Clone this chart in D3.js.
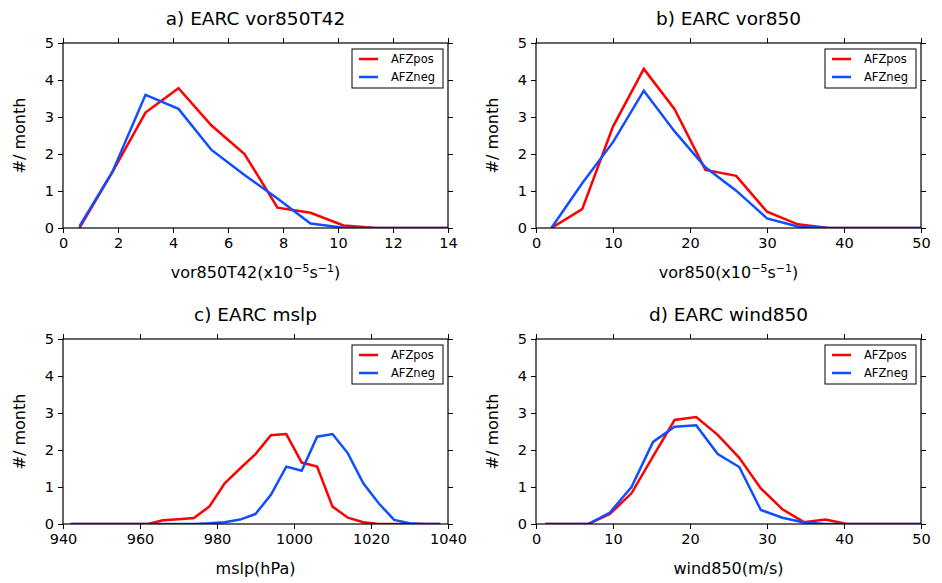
<!DOCTYPE html>
<html>
<head>
<meta charset="utf-8">
<script src="https://cdn.jsdelivr.net/npm/d3@7"></script>
<style>
body { margin: 0; background: #fff; }
text { font-family: "DejaVu Sans", sans-serif; fill: #000; }
</style>
</head>
<body>
<svg id="chart" width="942" height="583"></svg>
<script>
// panel a) vor850T42
var vorT42X = [0.6, 1.8, 3.0, 4.2, 5.4, 6.6, 7.8, 9.0, 10.2, 11.4, 12.6, 13.8, 15.0];
var vorT42Pos = [0.0, 1.52, 3.12, 3.78, 2.77, 2.0, 0.55, 0.41, 0.07, 0.0, 0.0, 0.0, 0.0];
var vorT42Neg = [0.05, 1.52, 3.6, 3.22, 2.11, 1.43, 0.8, 0.12, 0.01, 0.0, 0.0, 0.0, 0.0];

// panel b) vor850
var vorX = [2, 6, 10, 14, 18, 22, 26, 30, 34, 38, 42, 46, 50];
var vorPos = [0.0, 0.51, 2.74, 4.3, 3.21, 1.57, 1.41, 0.44, 0.1, 0.0, 0.0, 0.0, 0.0];
var vorNeg = [0.0, 1.21, 2.32, 3.71, 2.61, 1.64, 1.01, 0.26, 0.04, 0.0, 0.0, 0.0, 0.0];

// panel c) mslp
var mslpX = [942, 946, 950, 954, 958, 962, 966, 970, 974, 978, 982, 986, 990, 994, 998,
             1002, 1006, 1010, 1014, 1018, 1022, 1026, 1030, 1034, 1038];
var mslpPos = [0, 0, 0, 0, 0, 0, 0.1, 0.13, 0.16, 0.47, 1.1, 1.5, 1.89, 2.4, 2.43,
               1.66, 1.55, 0.47, 0.17, 0.05, 0, 0, 0, 0, 0];
var mslpNeg = [0, 0, 0, 0, 0, 0, 0, 0, 0, 0.02, 0.05, 0.12, 0.27, 0.79, 1.55,
               1.44, 2.36, 2.43, 1.91, 1.1, 0.56, 0.11, 0.02, 0, 0];

// panel d) wind850
var windX = [1.2, 4.0, 6.8, 9.6, 12.4, 15.2, 18.0, 20.8, 23.6, 26.4, 29.2, 32.0, 34.8,
             37.6, 40.4, 43.2, 46.0, 48.8, 51.6];
var windPos = [0, 0, 0, 0.27, 0.83, 1.83, 2.81, 2.89, 2.41, 1.79, 0.96, 0.4, 0.05,
               0.12, 0, 0, 0, 0, 0];
var windNeg = [0, 0, 0, 0.31, 1.0, 2.22, 2.63, 2.67, 1.89, 1.54, 0.38, 0.17, 0.04,
               0, 0, 0, 0, 0, 0];

var yTicks = [0, 1, 2, 3, 4, 5];
var seriesNames = ["AFZpos", "AFZneg"];
var seriesColors = ["#ff0000", "#0f4fff"];

var panels = [
  {title: "a) EARC vor850T42", xlab: "vor850T42", unit: true, x: vorT42X, pos: vorT42Pos, neg: vorT42Neg,
   domain: [0, 14], ticks: [0, 2, 4, 6, 8, 10, 12, 14], left: 63, top: 43},
  {title: "b) EARC vor850", xlab: "vor850", unit: true, x: vorX, pos: vorPos, neg: vorNeg,
   domain: [0, 50], ticks: [0, 10, 20, 30, 40, 50], left: 536, top: 43},
  {title: "c) EARC mslp", xlab: "mslp(hPa)", unit: false, x: mslpX, pos: mslpPos, neg: mslpNeg,
   domain: [940, 1040], ticks: [940, 960, 980, 1000, 1020, 1040], left: 63, top: 339},
  {title: "d) EARC wind850", xlab: "wind850(m/s)", unit: false, x: windX, pos: windPos, neg: windNeg,
   domain: [0, 50], ticks: [0, 10, 20, 30, 40, 50], left: 536, top: 339}
];

var w = 385, h = 185;
var svg = d3.select("#chart");

panels.forEach(function (p, k) {
  var g = svg.append("g").attr("transform", "translate(" + p.left + "," + p.top + ")");
  var x = d3.scaleLinear().domain(p.domain).range([0, w]);
  var y = d3.scaleLinear().domain([0, 5]).range([h, 0]);

  g.append("clipPath").attr("id", "clip" + k)
    .append("rect").attr("width", w).attr("height", h);

  // axes, ticks outward on all four sides
  var axB = g.append("g").attr("transform", "translate(0," + h + ")")
    .call(d3.axisBottom(x).tickValues(p.ticks).tickSize(5).tickPadding(5).tickFormat(d3.format("d")));
  var axT = g.append("g").call(d3.axisTop(x).tickValues(p.ticks).tickSize(5).tickFormat(""));
  var axL = g.append("g").call(d3.axisLeft(y).tickValues(yTicks).tickSize(5).tickPadding(4).tickFormat(d3.format("d")));
  var axR = g.append("g").attr("transform", "translate(" + w + ",0)")
    .call(d3.axisRight(y).tickValues(yTicks).tickSize(5).tickFormat(""));
  [axB, axT, axL, axR].forEach(function (a) {
    a.selectAll(".domain").remove();
    a.selectAll("line").attr("stroke", "#000").attr("stroke-width", 1);
    a.selectAll("text").style("font-size", "14.5px").style("font-family", "DejaVu Sans");
  });

  var line = d3.line().x(function (d) { return x(d[0]); }).y(function (d) { return y(d[1]); });
  var lines = g.append("g").attr("clip-path", "url(#clip" + k + ")");
  [p.pos, p.neg].forEach(function (vals, i) {
    lines.append("path")
      .datum(p.x.map(function (v, j) { return [v, vals[j]]; }))
      .attr("d", line)
      .attr("fill", "none")
      .attr("stroke", seriesColors[i])
      .attr("stroke-width", 2.5)
      .attr("stroke-linejoin", "miter");
  });

  g.append("rect").attr("width", w).attr("height", h)
    .attr("fill", "none").attr("stroke", "#000").attr("stroke-width", 1.2);

  // legend
  var lg = g.append("g").attr("transform", "translate(" + (w - 96) + ",6)");
  lg.append("rect").attr("width", 91).attr("height", 39)
    .attr("fill", "#fff").attr("stroke", "#000").attr("stroke-width", 1);
  seriesNames.forEach(function (s, i) {
    lg.append("line").attr("x1", 7).attr("x2", 26).attr("y1", 10 + i * 18).attr("y2", 10 + i * 18)
      .attr("stroke", seriesColors[i]).attr("stroke-width", 2.5);
    lg.append("text").attr("x", 39).attr("y", 10 + i * 18).attr("dy", "0.36em")
      .style("font-size", "11.5px").text(s);
  });

  // title
  g.append("text").attr("x", w / 2).attr("y", -18).attr("text-anchor", "middle")
    .style("font-size", "18.5px").text(p.title);

  // y label
  g.append("text").attr("transform", "translate(-38," + (h / 2) + ") rotate(-90)")
    .attr("text-anchor", "middle").style("font-size", "16px").text("#/ month");

  // x label
  var xl = g.append("text").attr("x", w / 2).attr("y", h + 50).attr("text-anchor", "middle")
    .style("font-size", "16px");
  xl.append("tspan").text(p.xlab + (p.unit ? "(x10" : ""));
  if (p.unit) {
    xl.append("tspan").attr("dy", -6).style("font-size", "11px").text("\u22125");
    xl.append("tspan").attr("dy", 6).text("s");
    xl.append("tspan").attr("dy", -6).style("font-size", "11px").text("\u22121");
    xl.append("tspan").attr("dy", 6).text(")");
  }
});
</script>
</body>
</html>
